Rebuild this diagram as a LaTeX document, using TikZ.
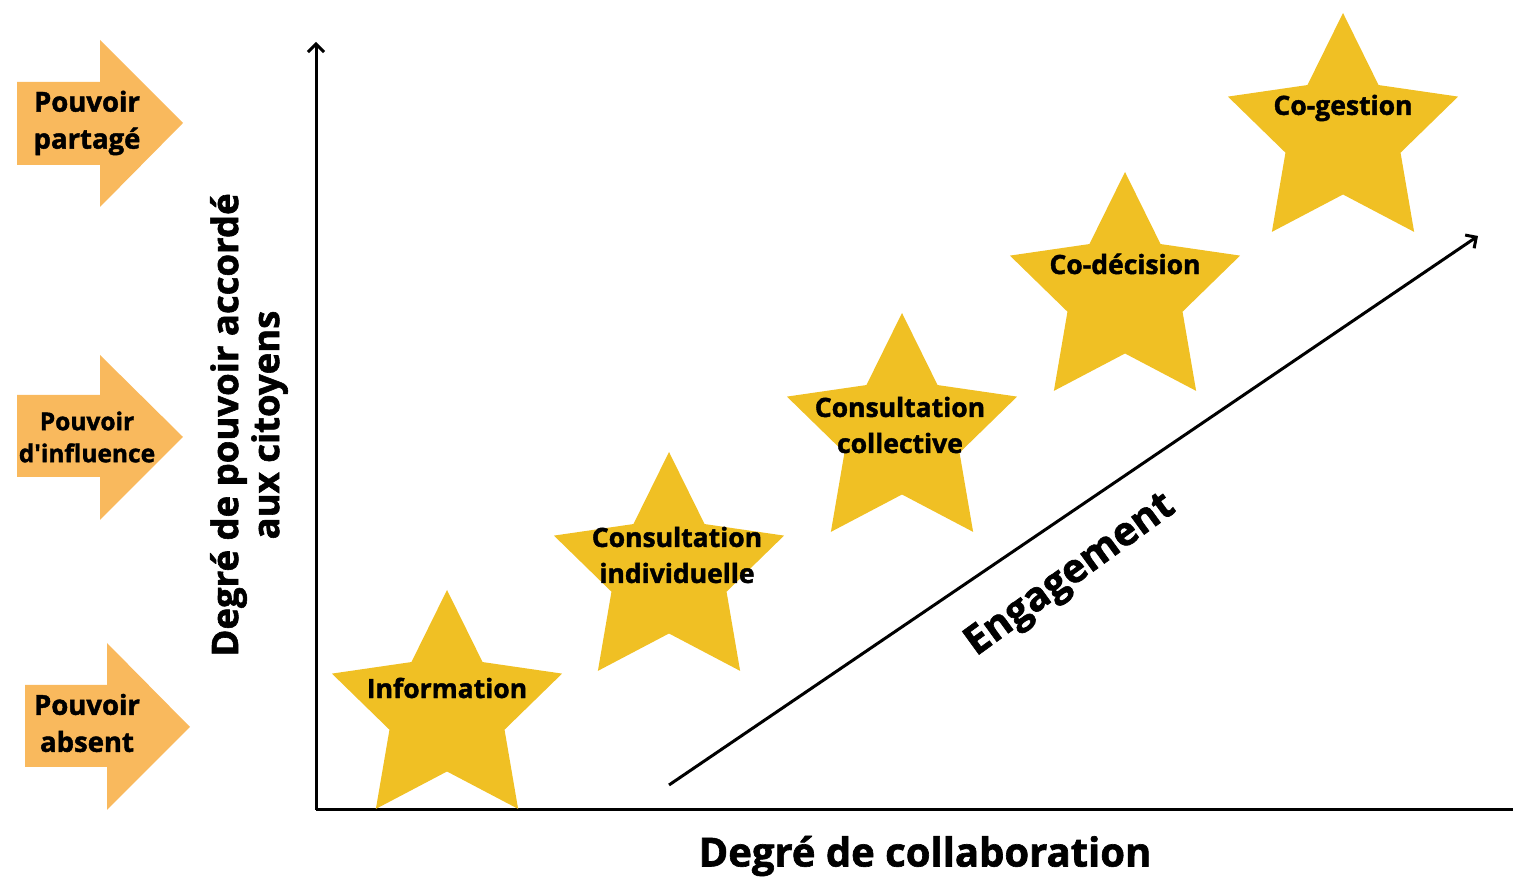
\documentclass[tikz,border=0pt]{standalone}
\usepackage{fontspec}
\setmainfont{Open Sans}[Ligatures=TeXOff, BoldFeatures={FakeBold=1.6}]
\usetikzlibrary{shapes.geometric,arrows.meta}
\definecolor{starcol}{HTML}{F0C024}
\definecolor{arrcol}{HTML}{F9B95D}
\tikzset{
  stardraw/.style={star, star points=5, star point ratio=2, minimum size=242pt, inner sep=0pt, outer sep=0pt, fill=starcol, draw=none},
  startext/.style={font=\bfseries\fontsize{26.5}{36}\selectfont, align=center, inner sep=0pt},
  arrtext/.style={font=\bfseries\fontsize{27.5}{37}\selectfont, align=center, inner sep=0pt},
  axisline/.style={line width=3pt, black},
  barbtip/.style={-{Straight Barb[length=8pt,width=16pt,line width=3pt]}},
}
\begin{document}
\begin{tikzpicture}[x=1pt,y=1pt]
\useasboundingbox (0,0) rectangle (1513,878);
% orange arrows
\fill[arrcol] (17,796) -- (100,796) -- (100,838) -- (183,755) -- (100,671) -- (100,713) -- (17,713) -- cycle;
\fill[arrcol] (17,483) -- (100,483) -- (100,523) -- (183,441) -- (100,358) -- (100,401) -- (17,401) -- cycle;
\fill[arrcol] (25,193) -- (107,193) -- (107,235) -- (190,151) -- (107,68) -- (107,111) -- (25,111) -- cycle;
\node[arrtext] (pp) at (87,755) {Pouvoir\\partagé};
\node[arrtext, font=\bfseries\fontsize{24.5}{32}\selectfont] (pi) at (87,441) {Pouvoir\\d'influence};
\node[arrtext] (pa) at (87,155) {Pouvoir\\absent};
% axes
\coordinate (O) at (316,68);
\coordinate (Ytop) at (316,836);
\coordinate (Xend) at (1513,68);
\draw[axisline, barbtip] (O) -- (Ytop);
\draw[axisline] (O) -- (Xend);
\node[font=\bfseries\fontsize{36.5}{41}\selectfont, align=center, rotate=90, inner sep=0pt] (ylab) at (249,453) {Degré de pouvoir accordé\\aux citoyens};
\node[font=\bfseries\fontsize{40}{44}\selectfont, inner sep=0pt] (xlab) at (925,22) {Degré de collaboration};
% stars
\node[stardraw] (s1) at (447,167) {};
\node[stardraw] (s2) at (669,305) {};
\node[stardraw] (s3) at (902,444) {};
\node[stardraw] (s4) at (1125,585) {};
\node[stardraw] (s5) at (1343,744) {};
\node[startext] (t1) at (447,190) {Information};
\node[startext] (t2) at (677,323) {Consultation\\individuelle};
\node[startext] (t3) at (900,453) {Consultation\\collective};
\node[startext] (t4) at (1125,614) {Co-décision};
\node[startext] (t5) at (1343,770) {Co-gestion};
% engagement arrow
\coordinate (e1) at (669,93);
\coordinate (e2) at (1478,642);
\draw[line width=3pt, barbtip] (e1) -- (e2);
\node[font=\bfseries\fontsize{40}{44}\selectfont, rotate=36, inner sep=0pt] (eng) at (1071,302) {Engagement};
\end{tikzpicture}
\end{document}
